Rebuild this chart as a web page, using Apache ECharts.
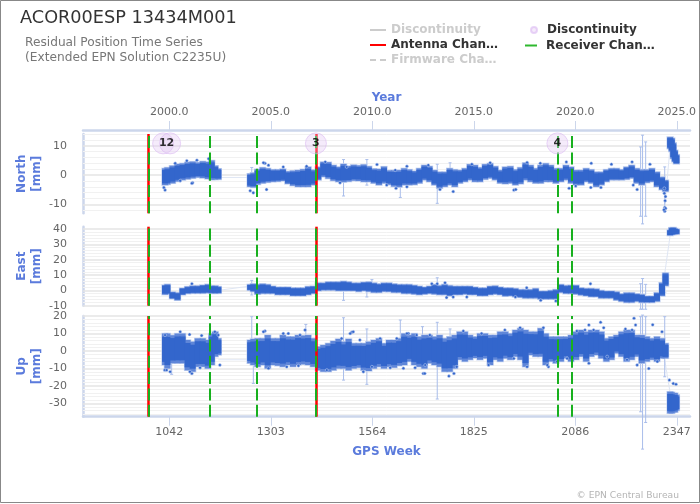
<!DOCTYPE html>
<html>
<head>
<meta charset="utf-8">
<style>
  html, body { margin: 0; padding: 0; background: #fff; overflow: hidden; }
  #chart { width: 700px; height: 504px; }
</style>
<script src="https://cdn.jsdelivr.net/npm/echarts@6/dist/echarts.min.js"></script>
</head>
<body>
<div id="chart"></div>
<script>
const tickWeeks = [1042, 1303, 1564, 1825, 2086, 2347];
const tickYears = ['2000.0', '2005.0', '2010.0', '2015.0', '2020.0', '2025.0'];

const weeks = [
  1031, 1037, 1050, 1063, 1076, 1089, 1102, 1115, 1128, 1141, 1151, 1160, 1168,
  1250, 1258, 1269, 1282, 1295, 1308, 1321, 1334, 1347, 1360, 1373, 1386, 1399, 1412, 1425, 1438, 1451,
  1464, 1477, 1490, 1503, 1516, 1529, 1542, 1555, 1568, 1581, 1594, 1607, 1620, 1633, 1646, 1659, 1672,
  1685, 1698, 1711, 1724, 1737, 1750, 1763, 1776, 1789, 1802, 1815, 1828, 1841, 1854, 1867, 1880, 1893,
  1906, 1919, 1932, 1945, 1958, 1971, 1984, 1997, 2010, 2023, 2036, 2049, 2062, 2075, 2088, 2101, 2114,
  2127, 2140, 2153, 2166, 2179, 2192, 2205, 2218, 2231, 2244, 2257, 2270, 2283, 2296, 2309, 2318,
  2330, 2334, 2338, 2342, 2346
];

const northLow = [
  -3.4, -3.2, -2.8, -2.2, -1.7, -1.4, -1.1, -0.8, -1, -1.3, -1.6, -1.5, -1.5,
  -4, -4.2, -3.2, -2.8, -2.5, -2.3, -2.2, -2, -3, -3.6, -4, -4, -4, -3.4, -1.7, -0.6, -1.2,
  -1.9, -2.3, -2.4, -2.2, -1.9, -2, -2.3, -2.3, -2.8, -3.4, -2.8, -3.3, -3.9, -4.1, -3.4, -3.4, -3.3,
  -2.8, -1.7, -2.3, -3.4, -4.5, -4, -3.4, -4, -2.8, -2.3, -1.7, -2.3, -2.3, -1.5, -1.1, -1.7, -2.8,
  -3, -2.8, -3.4, -3, -1.7, -2.3, -2.8, -2.8, -2.3, -2.3, -2.8, -2.3, -1.7, -2.8, -3.4, -3.4, -2.3,
  -2.8, -4, -3.4, -2.3, -1.7, -1.7, -1.7, -1.5, -1.1, -2.8, -3.4, -2.6, -2.3, -4, -5, -5.6,
  9, 8, 5.6, 4.5, 3.8
];
const northHigh = [
  2.3, 2.6, 3.2, 3.8, 4, 4.4, 4.6, 4.3, 4.7, 4.5, 5, 3.2, 2.2,
  0.5, 0.8, 2, 2.6, 2.3, 1.9, 1.9, 2.1, 1.3, 1.5, 1.7, 2, 2.8, 1.8, 2.8, 4.5, 4.4,
  3.4, 2.8, 3.8, 3.1, 3.5, 3.3, 3.6, 3, 2.2, 2.1, 2.9, 1.6, 1.6, 1.7, 2.3, 1.9, 1.4,
  2.3, 3.4, 3, 1.7, 1.1, 1.1, 2.3, 1.9, 1.7, 2.3, 3.7, 3.4, 2.6, 3.7, 4, 3, 1.7,
  2.8, 3, 1.9, 2.6, 4.2, 3.4, 2.3, 3.4, 4, 3.4, 2.3, 2.3, 3.4, 2.8, 1.7, 1.7, 2.3,
  1.9, 1.1, 1.1, 1.9, 2.3, 2.3, 1.9, 2.8, 3.4, 2.3, 1.9, 1.9, 2.3, 1.1, -0.6, -1.7,
  13, 12.6, 11, 8.5, 7
];

const eastLow = [
  -2.8, -2.5, -5.5, -6.5, -3, -2.2, -2, -2, -2, -1.8, -2, -2, -2,
  0, -0.9, -2.6, -2.2, -2.2, -2.2, -3, -3, -3, -3.7, -3.7, -3.7, -3, -2.2, -0.4, 0, 0,
  0, -0.4, -0.4, -0.4, -0.4, -0.9, -0.4, -0.9, -1.5, -1.5, -0.9, -1, -1.5, -1.5, -2.2, -2.2, -2.6,
  -3, -2.6, -2.2, -2.6, -3, -3, -3.7, -3, -3, -2.6, -3, -3, -3.7, -3.7, -3, -2.6, -3,
  -3.9, -3.7, -4.3, -4.7, -5.2, -5.2, -5.2, -5.8, -5.8, -5.8, -5.8, -1.5, -2.2, -2.2, -2.6, -3.2, -3.7,
  -4.3, -4.3, -5.2, -5.2, -5.2, -6.5, -7.3, -8, -8, -7.3, -8, -8, -8, -7.3, -3.7, 2.8,
  35.7, 36.1, 36.4, 36.6, 36.6
];
const eastHigh = [
  3.5, 4, -1, -1.5, 1.5, 2.5, 3, 3, 3.5, 4, 3, 3, 2.5,
  3.9, 4.3, 3.9, 4.3, 3.9, 2.8, 2.2, 2.2, 2.2, 1.7, 1.7, 1.7, 2.6, 2.8, 4.9, 4.9, 5.6,
  5.6, 5.6, 6, 5.6, 4.9, 4.9, 5.4, 5.6, 4.9, 4.3, 4.9, 4.9, 4.3, 3.9, 3.9, 3.9, 3.4,
  2.8, 2.2, 2.8, 3.9, 3.2, 3.9, 3.2, 2.8, 2.8, 2.8, 2.8, 2.2, 1.7, 1.7, 2.8, 3, 2.2,
  1.7, 1.7, 1.3, 0.6, 0.6, 0.6, 1.3, -0.4, -0.4, 0, 0.6, 3.9, 3.2, 3.4, 3.4, 1.7, 1.3,
  1.3, 1, 0, -0.4, -0.4, -0.9, -2.2, -1.5, -1.5, -2.2, -2.6, -3.7, -3.7, -1.5, 5, 11.4,
  39.4, 40.9, 41, 40.4, 40
];

const upLow = [
  -8, -10, -7, -7, -7, -11, -11.8, -9, -9, -10, -8, -3.2, -2.3,
  -7, -8, -9, -8, -10, -8, -8.4, -9, -8, -9, -8, -7.6, -8, -9, -11, -11.8, -11.8,
  -11, -10, -10, -11, -10, -9.5, -11, -11.4, -10, -9, -10, -9, -9.5, -8.4, -8, -6, -8,
  -9, -10, -7, -8, -9, -11.8, -11.8, -10, -5, -6, -5, -4, -5, -4.2, -8, -5, -6,
  -4.2, -5, -3.2, -5, -9, -2.3, -3.2, -3.2, -8, -6, -7, -6, -4.2, -6, -5, -3.2, -6,
  -3.2, -2.3, -4.2, -6, -5, -1.3, -3.2, -6, -5, -3.2, -7, -6, -5, -6, -4.2, -4.2,
  -35.6, -35.6, -35, -35, -34
];
const upHigh = [
  10, 10, 9, 10, 10, 6.3, 5.3, 7.2, 7.2, 6.3, 10, 11, 7.2,
  6.3, 6.9, 7.2, 7.2, 9.1, 7.2, 7.2, 9.1, 8.2, 8.2, 9.1, 8.8, 9.1, 7.2, 2.5, 3.4, 4.4,
  5.7, 6.9, 5.3, 6.9, 4.4, 4.4, 4.4, 5.3, 6.3, 7.2, 4.4, 6.3, 6.3, 7.2, 10, 9.1, 10,
  8.2, 9.1, 9.1, 8.2, 9.1, 7.2, 8.2, 9.1, 11, 11, 9.1, 8.2, 10, 10, 9.1, 9.1, 11,
  11, 10, 12, 13, 12, 11, 11, 13, 10, 8.2, 8.2, 8.2, 8.2, 9.1, 11, 12, 11,
  12, 12, 11, 7.2, 8.2, 9.1, 11, 12, 12, 9.1, 9.1, 8.2, 7.2, 8.2, 7.2, 4.4,
  -23.2, -23.5, -24, -24, -25
];

// error bars that stick out of the bands: [week, low, high]
const northBars = [[1254, -3.4, 2.6], [1490, -7.1, 5.3], [1550, -3.4, 5.3], [1636, -7.6, 0], [1731, -9.6, 3.7], [1764, -1.7, 4.2], [2254, -14, 9.6], [2259, -16.6, 13.6], [2267, -14, 11.3], [2316, -11.9, 2.8]];
const eastBars = [[1254, -3, 6.5], [1490, -6.5, 0], [1550, -4.3, 1.7], [1563, 1.7, 7], [1731, -0.4, 8.2], [2254, -12.3, 4.3], [2259, -12.3, 7.7], [2267, -12.3, 3.9], [2316, -1.5, 11.4]];
const upBars = [[1048, -13.3, 3.4], [1254, -4.2, 19.6], [1258, -18.5, 1.5], [1393, 3.4, 15.2], [1490, -16.6, 19], [1550, -19, 12.6], [1636, 0.6, 17.7], [1693, -9, 13.9], [1731, -27.4, 16.4], [1764, -6, 12.6], [2254, -34.7, 19.6], [2259, -56, 20.5], [2267, -40.8, 19.6], [2316, -14.7, 19.6]];

// single points outside the bands: [week, value]
const northPoints = [
  [1031, -5.1], [1028, -4.2], [1288, 4], [1297, 3.4], [1258, -6], [1250, -5.3], [1292, -4.9], [1102, -2.6], [1653, 3], [1625, -4.5],
  [1928, -5.1], [1772, -5.6], [1738, -4.9], [1820, 3.7], [2063, 4.5], [2127, 4], [2179, 3.7], [2232, 4.5], [2278, 3.7], [2070, -4.5],
  [2126, -4.2], [2245, -4.9], [2315, -4.5], [2315, -6.2], [2318, -7.3], [2317, -8.7], [2316, -11], [2316, -11.6], [2316, -12.3], [2318, -11.3], [2314, -11.8],
  [1057, 4], [1087, 4.9], [1113, 5.1], [1143, 5.6], [1100, -2.8], [1070, -1.9], [1284, 4.2], [1335, 2.8], [1395, 3], [1443, 4.5], [1498, 2.8],
  [1576, 3.6], [1623, 1.7], [1481, -2.6], [1601, -3.4], [1653, -4], [1708, 3.4], [1867, 4.2], [1962, 4.3], [1996, 4], [1933, -4.9], [2087, -3.7], [2152, -4.2], [2235, -3.4]
];
const eastPoints = [[1100, 4.3], [1731, 4.3], [1751, 4.9], [1755, -4.7], [1772, -4.3], [2125, 4.3], [2036, -6.9], [1717, 4.3], [1961, 1.7], [1932, -4.3], [1807, -4.3], [1997, -6.5]];
const upPoints = [
  [1030, -10.9], [1100, -12.8], [1288, 11.4], [1335, 10], [1391, 12], [1511, 10.7], [1297, -9.9], [1657, 10], [1695, -12.8], [1699, -12.8],
  [1761, -14.3], [1774, -12.8], [1962, -9], [2121, 14.9], [2151, 16.4], [2237, 18.7], [2241, 14.9], [2232, 12], [2285, 15], [2017, -9],
  [2328, -16.6], [2338, -18.5], [2345, -19],
  [1031, 9.1], [1070, 11], [1094, 9.5], [1125, 8.8], [1159, 11], [1168, 9.1], [1035, -10.9], [1095, -11.8], [1121, -9.5], [1172, -8], [1044, -11.8],
  [1284, 11], [1348, 10], [1378, 9.1], [1344, -9], [1374, -8.4], [1447, -10.9], [1485, 7.2], [1507, 10], [1515, 11], [1532, 6.3], [1584, 7.2], [1627, 7.2],
  [1653, 10], [1678, 9.1], [1541, -11.8], [1563, -9], [1610, -9.5], [1644, -9.9], [1674, -9.5],
  [1712, 9.1], [1798, 11.4], [1845, 10], [1905, 12], [1944, 13.3], [2004, 13.3], [2090, 11.4], [2111, 12], [2133, 12], [2159, 13.3], [2215, 12.6], [2309, 11],
  [1700, -8], [1781, -9], [1863, -8], [1928, -4.2], [2014, -8], [2039, -6], [2065, -4.2], [2121, -7], [2168, -3.2], [2219, -5], [2245, -8], [2275, -10], [2297, -6]
];

// thin light line that joins the data across the gaps
const northLink = [[1168, -0.8], [1250, -0.8], null, [2316, -11], [2330, 10]];
const eastLink = [[1168, 0], [1250, 2.8], null, [2316, 11], [2330, 36]];
const upLink = [[1168, -5], [1250, -5], null, [2316, -5], [2330, -24]];

const antennaWeeks = [988.5, 1420];
const receiverWeeks = [988, 1147, 1268, 1419, 2040, 2077];
const discontinuityWeeks = [1026, 1044, 1419, 2040];
const countWeeks = [1035, 1419, 2040];
const counts = [12, 3, 4];
const discontinuityY = 10.8;

const northTicks = [-10, 0, 10];
const eastTicks = [-10, 0, 10, 20, 30, 40];
const upTicks = [-30, -20, -10, 0, 10, 20];
const northGrid = [-12, -10, -8, -6, -4, -2, 0, 2, 4, 6, 8, 10, 12, 14];
const eastGrid = [-10, -8, -6, -4, -2, 0, 2, 4, 6, 8, 10, 12, 14, 16, 18, 20, 22, 24, 26, 28, 30, 32, 34, 36, 38, 40];
const upGrid = [-36, -34, -32, -30, -28, -26, -24, -22, -20, -18, -16, -14, -12, -10, -8, -6, -4, -2, 0, 2, 4, 6, 8, 10, 12, 14, 16, 18, 20];

const FONT = 'DejaVu Sans';
const BLUE = '#3366cc';
const SOFT_BLUE = '#5f86d8';
const HALO = '#c4d2f0';
const NAME_BLUE = '#5b7bdc';
const AXIS_LINE = '#ccd6eb';
const TEXT = '#666666';

// trim shrinks the bar from both ends, pad grows it (in pixels)
function bandItem(color, pad, trim) {
  return function (params, api) {
    const low = api.coord([api.value(0), api.value(1)]);
    const high = api.coord([api.value(0), api.value(2)]);
    const cut = (low[1] - high[1]) * trim;
    return {
      type: 'rect',
      shape: { x: low[0] - 3 - pad, y: high[1] - pad + cut, width: 6 + 2 * pad, height: low[1] - high[1] + 2 * pad - 2 * cut },
      style: { fill: color }
    };
  };
}

function whiskerItem(params, api) {
  const low = api.coord([api.value(0), api.value(1)]);
  const high = api.coord([api.value(0), api.value(2)]);
  const style = { stroke: '#a9bdea', lineWidth: 1, fill: 'none' };
  return {
    type: 'group',
    children: [
      { type: 'line', shape: { x1: low[0], y1: low[1], x2: high[0], y2: high[1] }, style: style },
      { type: 'line', shape: { x1: low[0] - 1.5, y1: low[1], x2: low[0] + 1.5, y2: low[1] }, style: style },
      { type: 'line', shape: { x1: high[0] - 1.5, y1: high[1], x2: high[0] + 1.5, y2: high[1] }, style: style }
    ]
  };
}

function panelSeries(index, low, high, bars, points, link, grid) {
  const axes = { xAxisIndex: index, yAxisIndex: index };
  const band = weeks.map((w, i) => [w, low[i], high[i]]);
  return [
    {
      type: 'line', ...axes, data: [], silent: true, z: 1,
      markLine: {
        z: 1, silent: true, symbol: 'none', label: { show: false }, animation: false,
        data: grid.map(v => ({
          yAxis: v,
          lineStyle: { color: v % 10 === 0 ? '#e4e4e4' : '#f1f1f1', width: v % 10 === 0 ? 1.5 : 1, type: 'solid' }
        }))
      }
    },
    { type: 'line', ...axes, data: link, z: 2, silent: true, symbol: 'none', lineStyle: { color: '#dfe6f4', width: 1 }, connectNulls: false },
    { type: 'custom', ...axes, data: bars, z: 3, silent: true, renderItem: whiskerItem, encode: { x: 0, y: [1, 2] } },
    { type: 'custom', ...axes, data: band, z: 4, silent: true, renderItem: bandItem(HALO, 0.7, 0), encode: { x: 0, y: [1, 2] } },
    { type: 'custom', ...axes, data: band, z: 4, silent: true, renderItem: bandItem(SOFT_BLUE, 0, 0), encode: { x: 0, y: [1, 2] } },
    { type: 'custom', ...axes, data: band, z: 5, silent: true, renderItem: bandItem(BLUE, 0, 0.1), encode: { x: 0, y: [1, 2] } },
    { type: 'scatter', ...axes, data: points, z: 5, silent: true, symbolSize: 3, itemStyle: { color: BLUE, opacity: 1, borderColor: HALO, borderWidth: 0.5 } },
    {
      name: 'Antenna Change', type: 'line', ...axes, data: [], color: '#ff0000', z: 6, symbol: 'none',
      lineStyle: { color: '#ff0000', width: 2 },
      markLine: { z: 6, silent: true, symbol: 'none', label: { show: false }, animation: false, lineStyle: { color: '#ff0000', width: 2.5, type: 'solid' }, data: antennaWeeks.map(w => ({ xAxis: w })) }
    },
    {
      name: 'Receiver Change', type: 'line', ...axes, data: [], color: '#2eb82e', z: 7, symbol: 'none',
      lineStyle: { color: '#2eb82e', width: 2 },
      markLine: { z: 7, silent: true, symbol: 'none', label: { show: false }, animation: false, lineStyle: { color: '#18b01e', width: 2, type: [12, 4.3] }, data: receiverWeeks.map(w => ({ xAxis: w })) }
    }
  ];
}

function yAxis(index, name, min, max, ticks) {
  return {
    type: 'value', gridIndex: index, min: min, max: max, name: name, nameLocation: 'middle', nameRotate: 90, nameGap: 39, nameMoveOverlap: false,
    nameTextStyle: { color: NAME_BLUE, fontFamily: FONT, fontSize: 12, fontWeight: 'bold', lineHeight: 15 },
    axisLine: { show: true, lineStyle: { color: AXIS_LINE, width: 2.5 } },
    axisTick: { show: false },
    splitLine: { show: false },
    axisLabel: { customValues: ticks, color: TEXT, fontFamily: FONT, fontSize: 11, margin: 16 }
  };
}

const legendText = { fontFamily: FONT, fontSize: 12, fontWeight: 'bold', color: '#333333', width: 110, overflow: 'truncate', ellipsis: '…' };
const legendNames = n => (n.indexOf('Discontinuity') === 0 ? 'Discontinuity' : n);

const chart = echarts.init(document.getElementById('chart'), null, { renderer: 'canvas' });

chart.setOption({
  animation: false,
  backgroundColor: '#ffffff',
  textStyle: { fontFamily: FONT },
  graphic: [{ type: 'rect', silent: true, shape: { x: 0.5, y: 0.5, width: 699, height: 502 }, style: { fill: 'none', stroke: '#888888', lineWidth: 1 } }],
  title: [
    { text: 'ACOR00ESP 13434M001', left: 20, top: 9, padding: 0, textStyle: { fontFamily: FONT, fontSize: 17.7, fontWeight: 'normal', color: '#333333' } },
    { text: 'Residual Position Time Series\n(Extended EPN Solution C2235U)', left: 25, top: 35, padding: 0, textStyle: { fontFamily: FONT, fontSize: 12.2, fontWeight: 'normal', color: '#777777', lineHeight: 15 } },
    { text: '© EPN Central Bureau', right: 21, top: 491, padding: 0, textStyle: { fontFamily: FONT, fontSize: 9.2, fontWeight: 'normal', color: '#b5b5b5' } }
  ],
  legend: [
    {
      left: 370, top: 24, padding: 0, orient: 'vertical', itemWidth: 16, itemHeight: 2, itemGap: 3,
      data: [
        { name: 'Discontinuity', icon: 'rect' },
        { name: 'Antenna Change', icon: 'rect' },
        { name: 'Firmware Change', icon: 'path://M0 0h6v2h-6zM10 0h6v2h-6z' }
      ],
      formatter: legendNames, textStyle: legendText,
      inactiveColor: '#cccccc', selected: { 'Discontinuity': false, 'Firmware Change': false }
    },
    {
      left: 525, top: 39.5, padding: 0, orient: 'vertical', itemWidth: 12, itemHeight: 2, itemGap: 1,
      data: [{ name: 'Receiver Change', icon: 'rect' }], textStyle: { ...legendText, width: 114, padding: [0, 0, 0, 4] }
    },
    {
      left: 530, top: 24, padding: 0, orient: 'vertical', itemWidth: 6, itemHeight: 6, itemGap: 1,
      data: ['Discontinuity Epoch'], formatter: legendNames, textStyle: { ...legendText, padding: [0, 0, 0, 5] }
    }
  ],
  grid: [
    { left: 83, right: 10, top: 134, height: 79.3 },
    { left: 83, right: 10, top: 226.7, height: 79 },
    { left: 83, right: 10, top: 316, height: 100.7 }
  ],
  xAxis: [
    {
      type: 'value', gridIndex: 0, position: 'top', offset: 4, min: 820, max: 2381,
      name: 'Year', nameLocation: 'middle', nameGap: 26,
      nameTextStyle: { color: NAME_BLUE, fontFamily: FONT, fontSize: 12, fontWeight: 'bold' },
      axisLine: { show: true, onZero: false, lineStyle: { color: AXIS_LINE, width: 2.5 } },
      axisTick: { show: true, length: 9, customValues: tickWeeks, lineStyle: { color: AXIS_LINE } },
      axisLabel: { customValues: tickWeeks, formatter: v => tickYears[tickWeeks.indexOf(v)], color: TEXT, fontFamily: FONT, fontSize: 11, margin: 12 },
      splitLine: { show: false }
    },
    {
      type: 'value', gridIndex: 1, min: 820, max: 2381,
      axisLine: { show: false }, axisTick: { show: false }, axisLabel: { show: false }, splitLine: { show: false }
    },
    {
      type: 'value', gridIndex: 2, position: 'bottom', min: 820, max: 2381,
      name: 'GPS Week', nameLocation: 'middle', nameGap: 29,
      nameTextStyle: { color: NAME_BLUE, fontFamily: FONT, fontSize: 12, fontWeight: 'bold' },
      axisLine: { show: true, onZero: false, lineStyle: { color: AXIS_LINE, width: 2.5 } },
      axisTick: { show: true, length: 9, customValues: tickWeeks, lineStyle: { color: AXIS_LINE } },
      axisLabel: { customValues: tickWeeks, formatter: v => String(v), color: TEXT, fontFamily: FONT, fontSize: 11, margin: 10 },
      splitLine: { show: false }
    }
  ],
  yAxis: [
    yAxis(0, 'North\n[mm]', -13, 14, northTicks),
    yAxis(1, 'East\n[mm]', -10, 41.5, eastTicks),
    yAxis(2, 'Up\n[mm]', -37.5, 20, upTicks)
  ],
  series: [
    ...panelSeries(0, northLow, northHigh, northBars, northPoints, northLink, northGrid),
    ...panelSeries(1, eastLow, eastHigh, eastBars, eastPoints, eastLink, eastGrid),
    ...panelSeries(2, upLow, upHigh, upBars, upPoints, upLink, upGrid),
    { name: 'Discontinuity', type: 'line', xAxisIndex: 0, yAxisIndex: 0, data: [], symbol: 'none', color: '#dddddd', lineStyle: { color: '#dddddd', width: 2 } },
    { name: 'Firmware Change', type: 'line', xAxisIndex: 0, yAxisIndex: 0, data: [], symbol: 'none', color: '#dddddd', lineStyle: { color: '#dddddd', width: 2, type: 'dashed' } },
    {
      name: 'Discontinuity Epoch', type: 'scatter', xAxisIndex: 0, yAxisIndex: 0, z: 8, silent: true, symbolSize: 21,
      data: discontinuityWeeks.map(w => [w, discontinuityY]),
      itemStyle: { color: 'rgba(228,200,245,0.45)', borderColor: 'rgba(215,180,240,0.7)', borderWidth: 1 }
    },
    {
      name: 'Discontinuity Epoch', type: 'scatter', xAxisIndex: 0, yAxisIndex: 0, z: 9, silent: true, symbolSize: 1,
      data: countWeeks.map((w, i) => [w, discontinuityY, counts[i]]),
      itemStyle: { color: 'rgba(0,0,0,0)' },
      label: { show: true, position: 'inside', formatter: p => String(p.value[2]), color: '#000000', fontFamily: FONT, fontSize: 11, fontWeight: 'bold' }
    }
  ]
});
</script>
</body>
</html>
